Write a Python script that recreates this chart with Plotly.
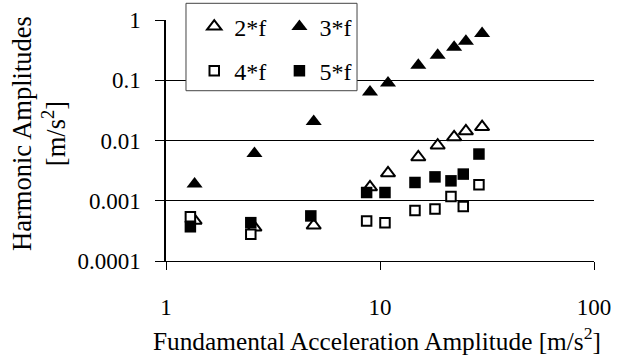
import plotly.graph_objects as go

# Fundamental acceleration amplitude [m/s^2]
x_tri = [1.36, 2.59, 4.90, 8.98, 10.9, 15.1, 18.6, 22.2, 25.2, 30.0]
x_sq = [1.30, 2.49, 4.75, 8.66, 10.55, 14.57, 18.07, 21.46, 24.5, 29.0]

# Harmonic amplitudes [m/s^2]
h2 = [0.00047, 0.00036, 0.00039, 0.00168, 0.00287, 0.0053, 0.0083, 0.0114, 0.0143, 0.0168]
h3 = [0.0019, 0.0061, 0.0206, 0.064, 0.090, 0.177, 0.259, 0.352, 0.443, 0.596]
h4 = [0.00054, 0.000277, None, 0.00046, 0.000433, 0.000687, 0.00073, 0.00118, 0.00080, 0.00185]
h5 = [0.00037, 0.000433, 0.00056, 0.00137, 0.00137, 0.00201, 0.00249, 0.00214, 0.00277, 0.00596]

names = ["2*f", "3*f", "4*f", "5*f"]
x_ticks = [1, 10, 100]
x_ticktext = ["1", "10", "100"]
y_ticks = [0.0001, 0.001, 0.01, 0.1, 1]
y_ticktext = ["0.0001", "0.001", "0.01", "0.1", "1"]

FONT = "Liberation Serif, Times New Roman, serif"

fig = go.Figure()
fig.add_trace(go.Scatter(x=x_tri, y=h2, mode="markers", name=names[0], legend="legend",
                         legendgroup="a",
                         marker=dict(symbol="triangle-up", size=12.5, color="white",
                                     line=dict(color="black", width=2))))
fig.add_trace(go.Scatter(x=x_tri, y=h3, mode="markers", name=names[1], legend="legend2",
                         legendgroup="b",
                         marker=dict(symbol="triangle-up", size=14, color="black",
                                     line=dict(color="black", width=0))))
fig.add_trace(go.Scatter(x=x_sq, y=h4, mode="markers", name=names[2], legend="legend",
                         legendgroup="c",
                         marker=dict(symbol="square", size=9.5, color="white",
                                     line=dict(color="black", width=2))))
fig.add_trace(go.Scatter(x=x_sq, y=h5, mode="markers", name=names[3], legend="legend2",
                         legendgroup="d",
                         marker=dict(symbol="square", size=11.5, color="black",
                                     line=dict(color="black", width=0))))

leg_common = dict(bgcolor="rgba(0,0,0,0)", borderwidth=0, font=dict(family=FONT, size=24, color="black"),
                  tracegroupgap=10, xanchor="left", yanchor="top", orientation="v", itemwidth=30)

fig.update_layout(
    width=633, height=360,
    margin=dict(l=166, r=39, t=20, b=99, autoexpand=False),
    paper_bgcolor="white", plot_bgcolor="white",
    font=dict(family=FONT, color="black"),
    showlegend=True,
    legend=dict(x=0.066, y=1.065, **leg_common),
    legend2=dict(x=0.265, y=1.065, **leg_common),
    xaxis=dict(type="log", range=[0, 2], tickvals=x_ticks, ticktext=x_ticktext,
               showgrid=False, zeroline=False, showline=True, linecolor="black", linewidth=1,
               ticks="outside", ticklen=8, tickcolor="black", tickwidth=1, automargin=False,
               tickfont=dict(family=FONT, size=23, color="black"), ticklabelstandoff=17),
    yaxis=dict(type="log", range=[-4, 0], tickvals=y_ticks, ticktext=y_ticktext,
               showgrid=True, gridcolor="black", gridwidth=1, zeroline=False,
               showline=True, linecolor="black", linewidth=1.5, automargin=False,
               ticks="outside", ticklen=9, tickcolor="black", tickwidth=1,
               tickfont=dict(family=FONT, size=23, color="black"), ticklabelstandoff=10),
    shapes=[dict(type="rect", xref="paper", yref="paper", x0=0.0467, x1=0.4463, y0=0.7066, y1=1.0693,
                 line=dict(color="#444444", width=1), fillcolor="white", layer="above")],
    annotations=[
        dict(text="Harmonic Amplitudes<br>[m/s<sup>2</sup>]", xref="paper", yref="paper",
             x=-0.297, y=0.531, xanchor="center", yanchor="middle", textangle=-90,
             showarrow=False, font=dict(family=FONT, size=26.5, color="black")),
        dict(text="Fundamental Acceleration Amplitude [m/s<sup>2</sup>]", xref="paper", yref="paper",
             x=0.493, y=-0.3237, xanchor="center", yanchor="middle",
             showarrow=False, font=dict(family=FONT, size=25.3, color="black")),
    ],
)

fig.write_html("out.html", config={"displayModeBar": False},
               post_script="document.body.style.margin='0';document.body.style.padding='0';")
